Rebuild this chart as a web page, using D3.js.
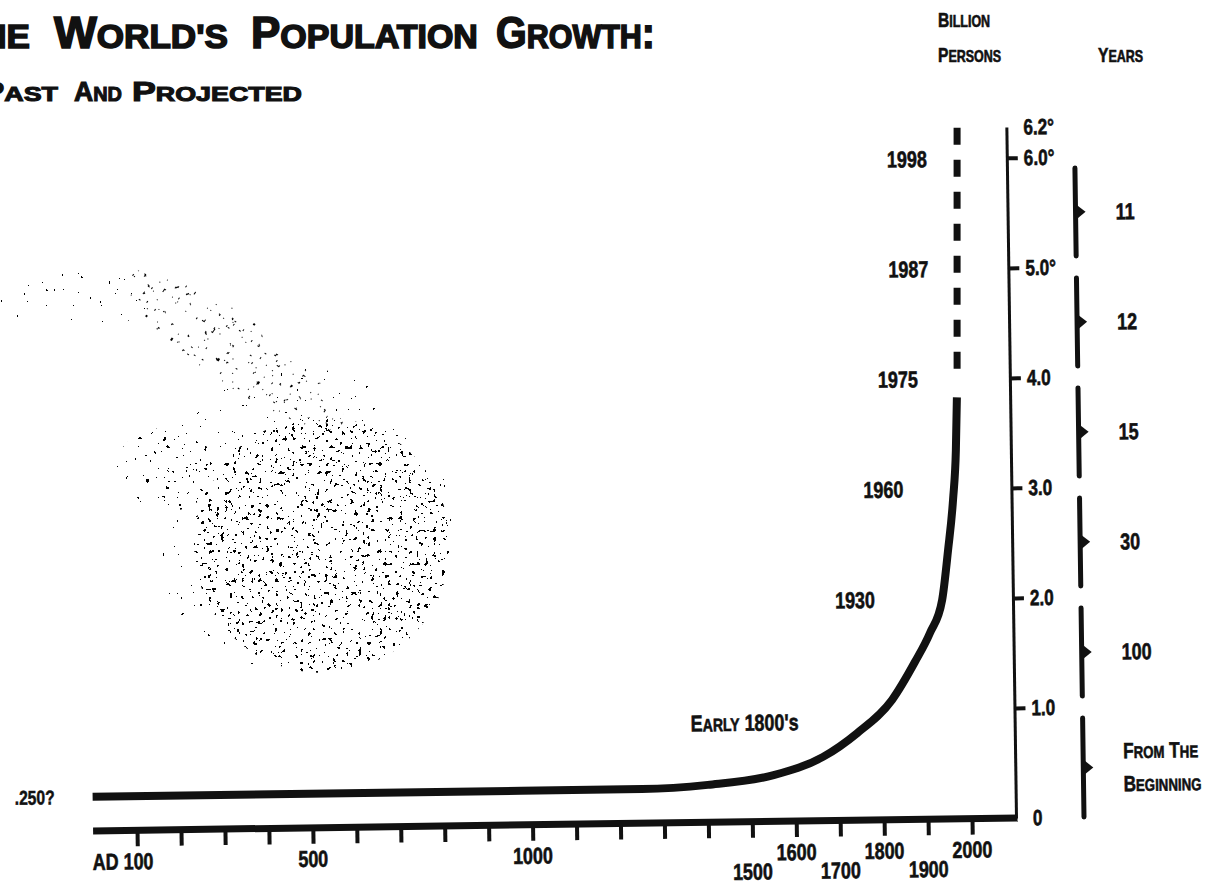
<!DOCTYPE html>
<html>
<head>
<meta charset="utf-8">
<script src="https://cdn.jsdelivr.net/npm/d3@7"></script>
<style>
  body { margin: 0; background: #fff; }
  svg { display: block; }
  text { font-family: "Liberation Sans", Arial, sans-serif; font-weight: bold; fill: #111; }
</style>
</head>
<body>
<svg id="chart" width="1208" height="886"></svg>
<script>
// population curve as drawn: year position on the time axis, billion persons
const pastYears  = [0, 700, 1250, 1400, 1550, 1663, 1741, 1822, 1875, 1910, 1939, 1954, 1967, 1975, 1979];
const pastValues = [0.31, 0.31, 0.31, 0.34, 0.42, 0.58, 0.79, 1.09, 1.43, 1.69, 1.99, 2.44, 2.90, 3.35, 3.83];
// projected part (dashed)
const projYears  = [1980, 1988];
const projValues = [3.98, 6.28];

// milestones written next to the curve
const markNames  = ["1930", "1960", "1975", "1987", "1998"];
const markValues = [2, 3, 4, 5, 6];

// time axis
const yearTicks  = [100, 200, 300, 400, 500, 600, 700, 800, 900, 1000, 1100, 1200, 1300, 1400, 1500, 1600, 1700, 1800, 1900, 2000];
const yearLabels = [100, 500, 1000, 1500, 1600, 1700, 1800, 1900, 2000];
const lowRow     = [1500, 1700, 1900];

// billion persons axis
const billionTicks  = [0, 1, 2, 3, 4, 5, 6];
const billionLabels = ["0", "1.0", "2.0", "3.0", "4.0", "5.0°", "6.0°"];
const topLabel = "6.2°";

// years needed for each added billion
const spanFrom  = [0, 1, 2, 3, 4, 5];
const spanTo    = [1, 2, 3, 4, 5, 6];
const spanYears = ["From The|Beginning", "100", "30", "15", "12", "11"];

// headline words
const titleWords = ["The", "World's", "Population", "Growth:"];
const subWords   = ["Past", "And", "Projected"];

const svg = d3.select("#chart");
const ink = "#111";
const narrow = 0.78;   // squeeze factor, the print uses a condensed face

// small caps: lower case letters are drawn as smaller capitals
function capsRuns(str) {
  const runs = [];
  for (const ch of str) {
    let small = /[a-z]/.test(ch);
    if (ch === "'" && runs.length) small = runs[runs.length - 1].small;
    const last = runs[runs.length - 1];
    const c = small ? ch.toUpperCase() : ch;
    if (last && last.small === small) last.t += c;
    else runs.push({ t: c, small: small });
  }
  return runs;
}
function capsText(parent, str, big, small) {
  const t = parent.append("text").attr("font-size", big);
  const runs = typeof str === "string" ? capsRuns(str) : str;
  runs.forEach(r => t.append("tspan").attr("font-size", r.small ? small : big).text(r.t));
  return t;
}
// horizontal squeeze that keeps the anchor point in place
function squeeze(sel, k) {
  sel.each(function() {
    const s = d3.select(this);
    const X = +s.attr("x") || 0;
    s.attr("x", X / k).attr("transform", `scale(${k},1)`);
  });
  return sel;
}
// set a headline word between x0 and x1 (x0 null: keep scale k, end at x1)
function placeWord(parent, word, y0, big, small, x0, x1, k) {
  const t = capsText(parent, word, big, small).attr("y", y0);
  const w = t.node().getComputedTextLength();
  const s = x0 == null ? k : (x1 - x0) / w;
  const left = x0 == null ? x1 - w * s : x0;
  t.attr("transform", `translate(${left},0) scale(${s},1)`);
  return s;
}

// speckled globe left over from the halftone print
const defs = svg.append("defs");
function speckle(id, freq, seed, cut) {
  const f = defs.append("filter").attr("id", id)
    .attr("x", "-5%").attr("y", "-5%").attr("width", "110%").attr("height", "110%")
    .attr("color-interpolation-filters", "sRGB");
  f.append("feTurbulence").attr("type", "fractalNoise").attr("baseFrequency", freq)
    .attr("numOctaves", 2).attr("seed", seed).attr("result", "noise");
  f.append("feColorMatrix").attr("in", "noise").attr("type", "matrix")
    .attr("values", "0 0 0 0 0  0 0 0 0 0  0 0 0 0 0  1 0 0 0 0").attr("result", "a");
  const table = d3.range(40).map(i => (i / 40 >= cut ? 1 : 0)).join(" ");
  f.append("feComponentTransfer").attr("in", "a").attr("result", "dots")
    .append("feFuncA").attr("type", "discrete").attr("tableValues", table);
  f.append("feComposite").attr("in", "dots").attr("in2", "SourceAlpha").attr("operator", "in");
}
speckle("dense", 0.24, 4, 0.66);
speckle("medium", 0.24, 7, 0.71);
speckle("sparse", 0.26, 9, 0.76);

const globe = svg.append("g").attr("fill", "#000");
globe.append("ellipse").attr("cx", 322).attr("cy", 545).attr("rx", 128).attr("ry", 128).attr("filter", "url(#dense)");
globe.append("circle").attr("cx", 300).attr("cy", 520).attr("r", 152).attr("filter", "url(#sparse)");
globe.append("ellipse").attr("cx", 235).attr("cy", 350).attr("rx", 130).attr("ry", 34)
  .attr("transform", "rotate(35 235 350)").attr("filter", "url(#medium)");
globe.append("ellipse").attr("cx", 75).attr("cy", 300).attr("rx", 80).attr("ry", 28).attr("filter", "url(#sparse)");
globe.append("ellipse").attr("cx", 165).attr("cy", 470).attr("rx", 50).attr("ry", 42).attr("filter", "url(#medium)");

// title, word by word so the spacing follows the print
const head = svg.append("g").attr("stroke", ink);
const titleSpan = [[null, 30], [54, 228], [251, 478], [496, 655]];
const tk = placeWord(head, titleWords[1], 48, 44, 34, titleSpan[1][0], titleSpan[1][1]);
titleWords.forEach((w, i) => {
  if (i === 1) return;
  placeWord(head, w, 48, 44, 34, titleSpan[i][0], titleSpan[i][1], tk);
});
head.selectAll("text").attr("stroke-width", 1.6);

const subHead = svg.append("g").attr("stroke", ink);
const subSpan = [[null, 58], [74, 122], [132, 302]];
const sk = placeWord(subHead, subWords[2], 101, 28, 21, subSpan[2][0], subSpan[2][1]);
subWords.forEach((w, i) => {
  if (i === 2) return;
  placeWord(subHead, w, 101, 28, 21, subSpan[i][0], subSpan[i][1], sk);
});
subHead.selectAll("text").attr("stroke-width", 1.1);

// column heads
const heads = svg.append("g").attr("stroke", ink).attr("stroke-width", 0.6);
squeeze(capsText(heads, "Billion", 20, 16).attr("x", 938).attr("y", 27), narrow);
squeeze(capsText(heads, "Persons", 20, 16).attr("x", 938).attr("y", 62), narrow);
squeeze(capsText(heads, "Years", 20, 16).attr("x", 1098).attr("y", 62), narrow);

// chart body, slightly tilted like the scan
const axisX = 1016, baseY = 818;
const g = svg.append("g").attr("transform", `rotate(-0.8 ${axisX} ${baseY})`);

const x = d3.scaleLinear().domain([0, 2000]).range([93, 972]);
const y = d3.scaleLinear().domain([0, 6.28]).range([baseY, 127]);

// time axis
const xAxis = g.append("g").attr("transform", `translate(0,${baseY})`)
  .call(d3.axisBottom(x).tickValues(yearTicks).tickSize(16).tickFormat(""));
xAxis.select(".domain").remove();
xAxis.selectAll(".tick line").attr("stroke", ink).attr("stroke-width", 4);
g.append("line")
  .attr("x1", x(0)).attr("x2", axisX + 1.5)
  .attr("y1", baseY).attr("y2", baseY)
  .attr("stroke", ink).attr("stroke-width", 7);

g.selectAll(".year-label")
  .data(yearLabels)
  .join("text")
  .attr("class", "year-label")
  .attr("x", d => d === 100 ? x(d) + 16 : x(d))
  .attr("y", d => baseY + (lowRow.includes(d) ? 58 : 39))
  .attr("text-anchor", d => d === 100 ? "end" : "middle")
  .attr("font-size", 23)
  .attr("stroke", ink).attr("stroke-width", 0.6)
  .text(d => d === 100 ? "AD 100" : d)
  .call(squeeze, narrow);

// billion persons axis
const yAxis = g.append("g").attr("transform", `translate(${axisX},0)`)
  .call(d3.axisRight(y).tickValues(billionTicks).tickSize(11).tickSizeOuter(0).tickPadding(6)
    .tickFormat((d, i) => billionLabels[i]))
  .attr("font-size", 22);
yAxis.select(".domain").attr("stroke", ink).attr("stroke-width", 3);
yAxis.selectAll(".tick line").attr("stroke", ink).attr("stroke-width", 4)
  .attr("display", d => d === 0 ? "none" : null);
yAxis.selectAll(".tick text").attr("stroke", ink).attr("stroke-width", 0.6).call(squeeze, narrow);
g.append("text")
  .attr("x", axisX + 17).attr("y", y(6.28)).attr("dy", "0.35em")
  .attr("font-size", 22).attr("stroke", ink).attr("stroke-width", 0.6)
  .text(topLabel)
  .call(squeeze, narrow);

// population curve
const past = pastYears.map((d, i) => ({ year: d, v: pastValues[i] }));
const proj = projYears.map((d, i) => ({ year: d, v: projValues[i] })).reverse();
const line = d3.line().x(d => x(d.year)).y(d => y(d.v)).curve(d3.curveMonotoneX);
const lineProj = d3.line().x(d => x(d.year)).y(d => y(d.v));

g.append("path").datum(past)
  .attr("d", line)
  .attr("fill", "none").attr("stroke", ink).attr("stroke-width", 8);
g.append("path").datum(proj)
  .attr("d", lineProj)
  .attr("fill", "none").attr("stroke", ink).attr("stroke-width", 7)
  .attr("stroke-dasharray", "17,15");

g.append("text")
  .attr("x", x(0) - 38).attr("y", y(pastValues[0])).attr("dy", "0.35em")
  .attr("text-anchor", "end").attr("font-size", 20)
  .attr("stroke", ink).attr("stroke-width", 0.5)
  .text(".250?")
  .call(squeeze, narrow);

// milestone years
const markRight = [878, 908, 924, 936, 936];
g.selectAll(".mark")
  .data(markNames)
  .join("text")
  .attr("class", "mark")
  .attr("x", (d, i) => markRight[i])
  .attr("y", (d, i) => y(markValues[i]))
  .attr("dy", "0.35em")
  .attr("text-anchor", "end")
  .attr("font-size", 23)
  .attr("stroke", ink).attr("stroke-width", 0.6)
  .text(d => d)
  .call(squeeze, narrow);

const early = capsText(g, [{ t: "E", small: false }, { t: "ARLY", small: true }, { t: " 1800's", small: false }], 23, 18)
  .attr("x", 800).attr("y", y(1) + 11).attr("dy", "0.35em")
  .attr("text-anchor", "end")
  .attr("stroke", ink).attr("stroke-width", 0.6);
squeeze(early, narrow);

// braces: years it took to add each billion
const braceX = 1084;
const spans = spanYears.map((d, i) => ({ label: d, from: spanFrom[i], to: spanTo[i] }));
const braceTop = d => y(d.to) + 11;
const braceBot = d => d.from === 0 ? y(d.from) : y(d.from) - 11;

const brace = g.selectAll(".brace")
  .data(spans)
  .join("g")
  .attr("class", "brace");

brace.append("line")
  .attr("x1", braceX).attr("x2", braceX)
  .attr("y1", braceTop)
  .attr("y2", braceBot)
  .attr("stroke", ink).attr("stroke-width", 5).attr("stroke-linecap", "round");

brace.append("path")
  .attr("d", d => {
    const m = (braceTop(d) + braceBot(d)) / 2;
    return `M${braceX},${m - 8}L${braceX + 10},${m}L${braceX},${m + 8}Z`;
  })
  .attr("fill", ink);

brace.each(function(d) {
  const lines = d.label.split("|");
  const m = (braceTop(d) + braceBot(d)) / 2;
  lines.forEach((l, k) => {
    const t = lines.length > 1
      ? capsText(d3.select(this), l, 22, 17)
      : d3.select(this).append("text").attr("font-size", 23).text(l);
    t.attr("x", 1124)
      .attr("y", m + (k - (lines.length - 1) / 2) * 33)
      .attr("dy", "0.35em")
      .attr("stroke", ink).attr("stroke-width", 0.6);
    squeeze(t, narrow);
  });
});
</script>
</body>
</html>
